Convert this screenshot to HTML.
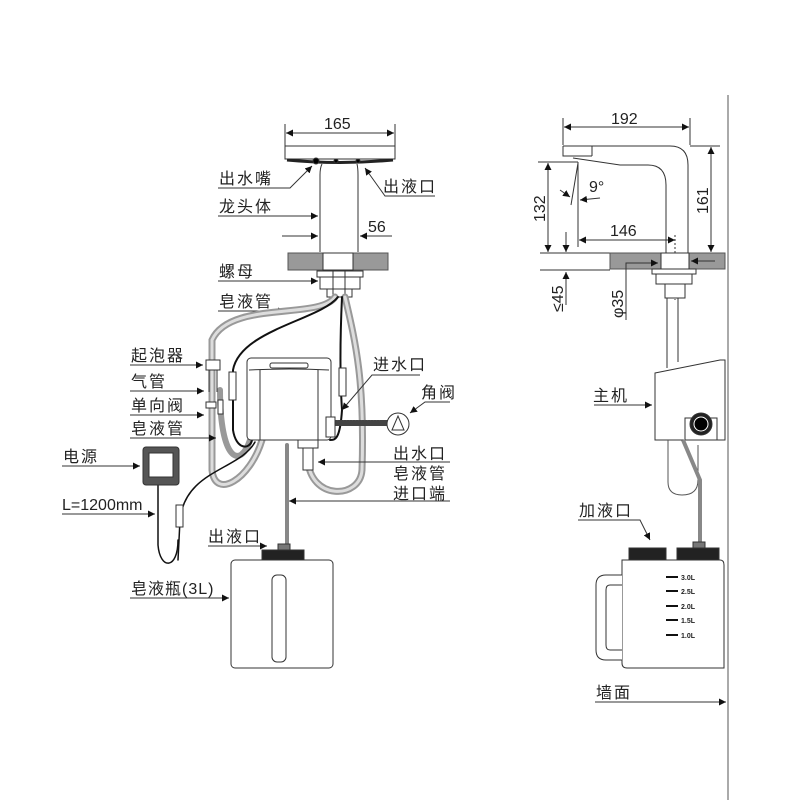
<!DOCTYPE html>
<html><head><meta charset="utf-8"><style>
html,body{margin:0;padding:0;background:#fff;}
svg{display:block}
text{font-family:"Liberation Sans","Noto Sans CJK SC",sans-serif;fill:#222;}
.cn{font-size:16px;letter-spacing:2px;}
.num{font-size:16px;}
</style></head><body>
<svg width="800" height="800" viewBox="0 0 800 800" xmlns="http://www.w3.org/2000/svg">
<defs>
<marker id="a" viewBox="0 0 10 10" refX="10" refY="5" markerWidth="7" markerHeight="7" orient="auto-start-reverse"><path d="M0,0L10,5L0,10z" fill="#111"/></marker>
</defs>
<g stroke="#333" stroke-width="1" fill="none">
<line x1="285" y1="124" x2="285" y2="150"/><line x1="395" y1="124" x2="395" y2="150"/>
<line x1="286" y1="133" x2="394" y2="133" marker-start="url(#a)" marker-end="url(#a)"/>
<path d="M285,146 H395 V159 H285 Z" fill="#fff"/>
<path d="M287,160 Q340,165 393,160" stroke="#222" stroke-width="3"/>
<circle cx="316" cy="161" r="3" fill="#000"/><circle cx="336" cy="161" r="2" fill="#000"/><circle cx="358" cy="161" r="2" fill="#000"/>
<path d="M322,164 Q320,168 320,175 V252 M357,164 Q358,168 358,175 V252"/>
<rect x="288" y="253" width="100" height="17" fill="#999" stroke="#555"/>
<rect x="323" y="253" width="30" height="17" fill="#fff"/>
<rect x="317" y="271" width="46" height="6" fill="#fff"/>
<rect x="320" y="277" width="40" height="12" fill="#fff"/>
<rect x="327" y="289" width="25" height="8" fill="#fff"/>
<line x1="333" y1="271" x2="333" y2="297"/><line x1="345" y1="271" x2="345" y2="297"/>
<path d="M218,188 H290 L312,166" marker-end="url(#a)"/>
<path d="M435,196 H385 L365,168" marker-end="url(#a)"/>
<line x1="218" y1="216" x2="318" y2="216" marker-end="url(#a)"/>
<line x1="282" y1="236" x2="318" y2="236" marker-end="url(#a)"/>
<line x1="392" y1="236" x2="360" y2="236" marker-end="url(#a)"/>
<line x1="218" y1="281" x2="318" y2="281" marker-end="url(#a)"/>
<line x1="218" y1="311" x2="285" y2="311" marker-end="url(#a)"/>
</g>
<g fill="none" stroke-linecap="round">
<path d="M335,297 C320,320 230,300 212,340 L212,470 C215,500 250,480 262,440" stroke="#999" stroke-width="7"/>
<path d="M335,297 C320,320 230,300 212,340 L212,470 C215,500 250,480 262,440" stroke="#ddd" stroke-width="3"/>
<path d="M345,297 C355,340 365,380 362,470 C360,500 310,500 308,460" stroke="#999" stroke-width="7"/>
<path d="M345,297 C355,340 365,380 362,470 C360,500 310,500 308,460" stroke="#ddd" stroke-width="3"/>
<path d="M220,390 C220,460 240,470 250,440" stroke="#999" stroke-width="6"/>
<path d="M338,297 C320,320 240,330 233,370 L233,430 C236,450 250,450 252,440" stroke="#111" stroke-width="2"/>
<path d="M342,297 C340,340 340,380 342,410 C340,440 335,440 330,440" stroke="#111" stroke-width="2"/>
<path d="M255,442 C240,470 185,470 180,520 L178,560" stroke="#111" stroke-width="1.5"/>
<path d="M158,485 L158,545 C160,570 178,570 178,540" stroke="#111" stroke-width="1.5"/>
<line x1="287" y1="445" x2="287" y2="550" stroke="#888" stroke-width="4"/>
<path d="M335,423 H395" stroke="#444" stroke-width="6" stroke-dasharray="2,1"/>
</g>
<g stroke="#333" stroke-width="1" fill="#fff">
<rect x="229" y="372" width="7" height="28"/><rect x="339" y="368" width="7" height="28"/>
<rect x="176" y="505" width="7" height="22"/>
<rect x="206" y="360" width="14" height="10"/><line x1="209" y1="370" x2="209" y2="392"/><line x1="217" y1="370" x2="217" y2="392"/>
<rect x="206" y="402" width="10" height="6"/><rect x="218" y="400" width="5" height="14"/>
<rect x="247" y="358" width="84" height="82" rx="4"/>
<line x1="260" y1="370" x2="260" y2="440"/><line x1="318" y1="370" x2="318" y2="440"/>
<path d="M249,370 Q290,368 329,370"/>
<rect x="270" y="363" width="38" height="5" rx="2"/>
<rect x="326" y="417" width="9" height="20"/>
<rect x="298" y="440" width="20" height="8"/><rect x="303" y="448" width="10" height="22"/>
<circle cx="398" cy="424" r="11"/><path d="M392,430 L398,416 L404,430 Z"/>
<rect x="143" y="447" width="36" height="38" rx="3" fill="#555" stroke="#333"/>
<rect x="149" y="453" width="24" height="24" fill="#fff"/>
<rect x="231" y="560" width="102" height="108" rx="4"/>
<rect x="272" y="575" width="14" height="87" rx="5"/>
<rect x="262" y="550" width="42" height="10" fill="#222"/>
<rect x="278" y="544" width="12" height="6" fill="#777"/>
</g>
<g stroke="#333" stroke-width="1" fill="none">
<line x1="130" y1="365" x2="203" y2="365" marker-end="url(#a)"/>
<line x1="130" y1="391" x2="204" y2="391" marker-end="url(#a)"/>
<line x1="130" y1="415" x2="204" y2="415" marker-end="url(#a)"/>
<line x1="130" y1="438" x2="216" y2="438" marker-end="url(#a)"/>
<line x1="62" y1="466" x2="140" y2="466" marker-end="url(#a)"/>
<line x1="62" y1="514" x2="155" y2="514" marker-end="url(#a)"/>
<path d="M420,375 H372 L342,410" marker-end="url(#a)"/>
<path d="M450,402 H425 L410,413" marker-end="url(#a)"/>
<line x1="450" y1="462" x2="318" y2="462" marker-end="url(#a)"/>
<line x1="450" y1="501" x2="289" y2="501" marker-end="url(#a)"/>
<line x1="208" y1="546" x2="267" y2="546" marker-end="url(#a)"/>
<line x1="130" y1="598" x2="229" y2="598" marker-end="url(#a)"/>

<line x1="728" y1="95" x2="728" y2="800" stroke="#555"/>
<line x1="563" y1="118" x2="563" y2="145"/><line x1="690" y1="118" x2="690" y2="145"/>
<line x1="564" y1="127" x2="689" y2="127" marker-start="url(#a)" marker-end="url(#a)"/>
<path d="M563,146 H670 Q688,146 688,165 V253"/>
<path d="M563,146 V156 L592,156 M592,146 V156"/>
<path d="M573,158 Q600,162 620,165 H648 Q666,165 666,185 V253"/>
<line x1="690" y1="146" x2="720" y2="146"/>
<line x1="711" y1="147" x2="711" y2="252" marker-start="url(#a)" marker-end="url(#a)"/>
<line x1="538" y1="162" x2="578" y2="162"/>
<line x1="548" y1="163" x2="548" y2="252" marker-start="url(#a)" marker-end="url(#a)"/>
<line x1="578" y1="162" x2="578" y2="247"/>
<line x1="566" y1="232" x2="566" y2="252" marker-end="url(#a)"/>
<path d="M578,163 L571,205"/>
<line x1="560" y1="190" x2="570" y2="197" marker-end="url(#a)"/>
<line x1="600" y1="198" x2="580" y2="200" marker-end="url(#a)"/>
<line x1="579" y1="240" x2="675" y2="240" marker-start="url(#a)" marker-end="url(#a)"/>
<line x1="675" y1="235" x2="675" y2="300" stroke-dasharray="2,2"/>
<line x1="540" y1="253" x2="610" y2="253"/>
<line x1="540" y1="270" x2="610" y2="270"/>
<line x1="566" y1="305" x2="566" y2="272" marker-end="url(#a)"/>
<rect x="610" y="253" width="115" height="16" fill="#999" stroke="#555"/>
<rect x="661" y="253" width="28" height="16" fill="#fff"/>
<rect x="652" y="269" width="44" height="5" fill="#fff"/>
<rect x="656" y="274" width="36" height="10" fill="#fff"/>
<rect x="665" y="284" width="20" height="14" fill="#fff"/>
<path d="M626,320 V263 H658" marker-end="url(#a)"/>
<line x1="715" y1="261" x2="691" y2="261" marker-end="url(#a)"/>
<line x1="667" y1="298" x2="667" y2="368"/><line x1="678" y1="298" x2="678" y2="362"/>
<path d="M655,373 L720,360 H725 V440 H655 Z" fill="#fff"/>
<rect x="685" y="418" width="32" height="22" fill="#fff"/>
<circle cx="701" cy="424" r="11" fill="#222"/>
<circle cx="701" cy="424" r="7" fill="#000" stroke="#fff"/>
<line x1="594" y1="405" x2="652" y2="405" marker-end="url(#a)"/>
<path d="M668,440 V482 Q668,495 682,495 Q698,495 698,480 V445" stroke="#555"/>
<path d="M683,440 L700,480 V550" stroke="#888" stroke-width="4"/>
<path d="M578,520 H640 L650,540" marker-end="url(#a)"/>
<rect x="629" y="548" width="37" height="12" fill="#222"/>
<rect x="677" y="548" width="42" height="12" fill="#222"/>
<rect x="693" y="542" width="12" height="6" fill="#777"/>
<path d="M622,560 H720 Q724,560 724,565 V668 H627 Q622,668 622,663 Z" fill="#fff"/>
<path d="M622,575 H606 Q596,575 596,585 V650 Q596,660 606,660 H622 M622,585 H610 Q606,585 606,590 V645 Q606,650 610,650 H622" fill="#fff"/>
<g stroke="#111" stroke-width="2"><line x1="666" y1="577" x2="678" y2="577"/><line x1="666" y1="591" x2="678" y2="591"/><line x1="666" y1="606" x2="678" y2="606"/><line x1="666" y1="620" x2="678" y2="620"/><line x1="666" y1="635" x2="678" y2="635"/></g>
<line x1="595" y1="702" x2="726" y2="702" marker-end="url(#a)"/>
</g>
<g font-size="7" font-weight="bold"><text x="681" y="580">3.0L</text><text x="681" y="594">2.5L</text><text x="681" y="609">2.0L</text><text x="681" y="623">1.5L</text><text x="681" y="638">1.0L</text></g>
<text class="num" x="324" y="129">165</text>
<text class="cn" x="219" y="184">出水嘴</text>
<text class="cn" x="383" y="192">出液口</text>
<text class="cn" x="219" y="212">龙头体</text>
<text class="num" x="368" y="232">56</text>
<text class="cn" x="219" y="277">螺母</text>
<text class="cn" x="219" y="307">皂液管</text>
<text class="cn" x="131" y="361">起泡器</text>
<text class="cn" x="131" y="387">气管</text>
<text class="cn" x="131" y="411">单向阀</text>
<text class="cn" x="131" y="434">皂液管</text>
<text class="cn" x="63" y="462">电源</text>
<text class="num" x="62" y="510">L=1200mm</text>
<text class="cn" x="373" y="370">进水口</text>
<text class="cn" x="421" y="398">角阀</text>
<text class="cn" x="393" y="459">出水口</text>
<text class="cn" x="393" y="479">皂液管</text>
<text class="cn" x="393" y="499">进口端</text>
<text class="cn" x="208" y="542">出液口</text>
<text class="cn" x="131" y="594" style="letter-spacing:1px">皂液瓶(3L)</text>
<text class="num" x="611" y="124">192</text>
<text class="num" x="589" y="192">9°</text>
<text class="num" x="610" y="236">146</text>
<text class="num" transform="translate(545,222) rotate(-90)">132</text>
<text class="num" transform="translate(708,214) rotate(-90)">161</text>
<text class="num" transform="translate(563,312) rotate(-90)">≤45</text>
<text class="num" transform="translate(623,318) rotate(-90)">φ35</text>
<text class="cn" x="593" y="401">主机</text>
<text class="cn" x="579" y="516">加液口</text>
<text class="cn" x="596" y="698">墙面</text>
</svg>
</body></html>
